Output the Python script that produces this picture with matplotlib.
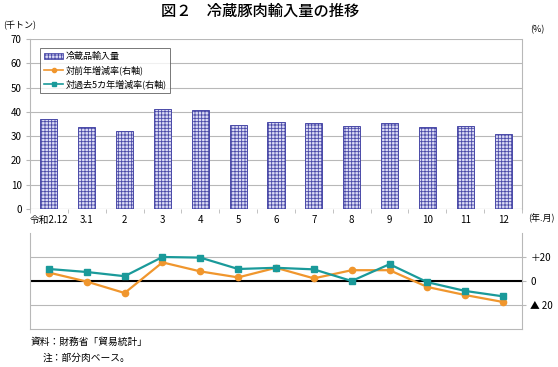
import matplotlib
matplotlib.use("Agg")
import matplotlib.pyplot as plt
import numpy as np
from matplotlib.lines import Line2D
from matplotlib.patches import Patch

plt.rcParams['font.family'] = ['Noto Sans CJK JP', 'DejaVu Sans']
plt.rcParams['hatch.linewidth'] = 0.6

categories = ['令和2.12', '3.1', '2', '3', '4', '5', '6', '7', '8', '9', '10', '11', '12']
imports = [37.0, 33.7, 32.0, 41.0, 40.6, 34.5, 35.7, 35.4, 34.2, 35.4, 33.7, 34.2, 30.7]
yoy = [7.0, -0.5, -10.0, 15.5, 8.0, 3.0, 11.0, 2.2, 9.0, 9.0, -5.0, -11.7, -17.5]
vs5y = [10.0, 7.5, 4.0, 20.0, 19.5, 10.0, 11.0, 9.7, 0.0, 14.0, -1.0, -8.3, -12.8]
right_ticks = [20, 0, -20]
right_labels = ['＋20', '0', '▲ 20']

W, H = 558, 367
fig = plt.figure(figsize=(W/100, H/100), dpi=100)

def fx(px): return px / W
def fy(py): return 1 - py / H

left, right = 30, 522
ax = fig.add_axes([fx(left), fy(209), fx(right - left), fy(39) - fy(209)])
ax2 = fig.add_axes([fx(left), fy(329), fx(right - left), fy(233) - fy(329)])

grid_c = '#b8b8b8'
bar_face = '#dcdcf5'
bar_edge = '#4a4aa8'
x = np.arange(len(categories))

# upper panel
ax.bar(x, imports, width=0.45, facecolor=bar_face, edgecolor=bar_edge,
       hatch='+++++', linewidth=0.7, zorder=3)
ax.set_xlim(-0.5, len(categories) - 0.5)
ax.set_ylim(0, 70)
ax.set_yticks(range(0, 71, 10))
ax.yaxis.grid(True, color=grid_c, linewidth=0.8, zorder=0)
ax.set_axisbelow(True)
for s in ['top', 'bottom']:
    ax.spines[s].set_visible(False)
ax.spines['left'].set_color(grid_c)
ax.spines['right'].set_color(grid_c)
ax.axhline(0, color=grid_c, linewidth=0.8)
ax.set_xticks(x)
ax.set_xticklabels(categories, fontsize=7)
ax.tick_params(axis='x', which='major', length=0, pad=4)
ax.set_xticks(np.arange(-0.5, len(categories), 1), minor=True)
ax.tick_params(axis='x', which='minor', length=3, color=grid_c)
ax.tick_params(axis='y', labelsize=7, length=3, color=grid_c, pad=3)

handles = [
    Patch(facecolor=bar_face, edgecolor=bar_edge, hatch='+++++', linewidth=0.6, label='冷蔵品輸入量'),
    Line2D([], [], color='#f0962d', marker='o', markersize=3, linewidth=1.2, label='対前年増減率(右軸)'),
    Line2D([], [], color='#1a9a9a', marker='s', markersize=3, linewidth=1.2, label='対過去5カ年増減率(右軸)'),
]
leg = ax.legend(handles=handles, loc='upper left', bbox_to_anchor=(0.012, 0.975),
                fontsize=6.5, frameon=True, fancybox=False, edgecolor='#555555',
                handlelength=2.0, handletextpad=0.3, borderpad=0.45, labelspacing=0.45)
leg.get_frame().set_linewidth(0.7)

# lower panel
ax2.plot(x, yoy, color='#f0962d', marker='o', markersize=4.5, linewidth=1.6, zorder=3)
ax2.plot(x, vs5y, color='#1a9a9a', marker='s', markersize=4.5, linewidth=1.6, zorder=4)
ax2.set_xlim(-0.5, len(categories) - 0.5)
ax2.set_ylim(-40, 40)
ax2.set_yticks([-40, -20, 0, 20, 40])
ax2.yaxis.grid(True, color=grid_c, linewidth=0.8, zorder=0)
ax2.axhline(0, color='black', linewidth=1.5, zorder=2)
ax2.set_xticks([])
ax2.spines['top'].set_visible(False)
ax2.spines['bottom'].set_color(grid_c)
ax2.spines['left'].set_color(grid_c)
ax2.spines['right'].set_color(grid_c)
ax2.yaxis.tick_right()
ax2.set_yticks(right_ticks)
ax2.set_yticklabels(right_labels, fontsize=7)
ax2.tick_params(axis='y', length=3, color=grid_c, pad=3)

# texts
fig.text(fx(260), fy(11), '図２　冷蔵豚肉輸入量の推移', ha='center', va='center',
         fontsize=11, fontweight='medium')
fig.text(fx(3), fy(26), '(千トン)', ha='left', va='center', fontsize=6.5)
fig.text(fx(530), fy(30), '(%)', ha='left', va='center', fontsize=6.5)
fig.text(fx(528), fy(218), '(年.月)', ha='left', va='center', fontsize=6.5)
fig.text(fx(31), fy(342), '資料：財務省「貿易統計」', ha='left', va='center', fontsize=7)
fig.text(fx(43), fy(358), '注：部分肉ベース。', ha='left', va='center', fontsize=7)

fig.savefig('out.png', dpi=100)
